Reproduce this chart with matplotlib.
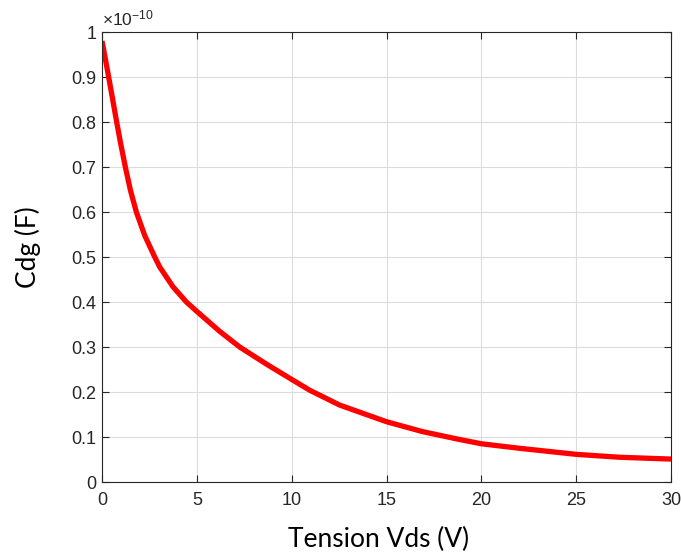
import numpy as np
import matplotlib.pyplot as plt
from matplotlib.ticker import FuncFormatter

# Vds (V) and Cdg (x1e-10 F)
vds = [0, 0.23, 0.35, 0.55, 0.76, 0.97, 1.23, 1.5, 1.81, 2.25, 2.78, 3.04, 3.74,
       4.45, 5.03, 6.2, 7.26, 8.67, 10.0, 10.95, 12.53, 15.0, 16.9, 18.68, 20.0,
       22.0, 25.0, 27.3, 30]
cdg = [0.98, 0.928, 0.9, 0.853, 0.803, 0.755, 0.7, 0.648, 0.6, 0.548, 0.5, 0.478, 0.434,
       0.4, 0.378, 0.335, 0.3, 0.262, 0.228, 0.204, 0.171, 0.134, 0.112, 0.096, 0.085,
       0.075, 0.0615, 0.055, 0.051]

xticks = [0, 5, 10, 15, 20, 25, 30]
yticks = [0, 0.1, 0.2, 0.3, 0.4, 0.5, 0.6, 0.7, 0.8, 0.9, 1]

plt.rcParams['font.family'] = ['Liberation Sans', 'DejaVu Sans']
plt.rcParams['mathtext.fontset'] = 'custom'
plt.rcParams['mathtext.rm'] = 'Liberation Sans'
plt.rcParams['mathtext.it'] = 'Liberation Sans'

fig = plt.figure(figsize=(6.81, 5.55), dpi=100)
ax = fig.add_axes([0.1498, 0.1315, 0.8355, 0.8108])

ax.plot(vds, cdg, color='red', linewidth=3.8, solid_capstyle='butt',
        solid_joinstyle='round')

ax.set_xlim(0, 30)
ax.set_ylim(0, 1)
ax.set_xticks(xticks)
ax.set_yticks(yticks)
ax.yaxis.set_major_formatter(FuncFormatter(lambda v, p: '%g' % v))
ax.grid(True, color='#dcdcdc', linewidth=0.8)
ax.set_axisbelow(True)

dark = '#262626'
for s in ax.spines.values():
    s.set_color(dark)
    s.set_linewidth(0.8)
ax.tick_params(direction='in', length=5, width=0.8, colors=dark, labelsize=13,
               top=True, right=True)
ax.tick_params(axis='x', pad=7)
ax.tick_params(axis='y', pad=4)

ax.text(0.0, 1.008, r'$\times10^{-10}$', transform=ax.transAxes, fontsize=12.5,
        color=dark, ha='left', va='bottom')

ax.set_xlabel('Tension Vds (V)', fontsize=19, family=['Lato', 'DejaVu Sans'],
              labelpad=13)
ax.set_ylabel('Cdg (F)', fontsize=19, family=['Lato', 'DejaVu Sans'], labelpad=22)
ax.xaxis.label.set_x(0.486)
ax.yaxis.label.set_y(0.522)

fig.savefig('out.png', dpi=100)
